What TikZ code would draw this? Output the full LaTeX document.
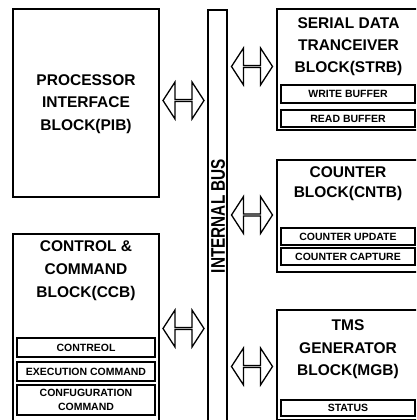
\documentclass[tikz,border=0pt]{standalone}
\usepackage{fontspec}
\setmainfont{Liberation Sans}
\usetikzlibrary{shapes.arrows}
\begin{document}
\begin{tikzpicture}[x=1pt,y=-1pt,
  outerbox/.style={draw,line width=1.9pt,rectangle,inner sep=0pt},
  subbox/.style={draw,line width=1.5pt,rectangle,inner sep=0pt,font=\fontsize{10.5}{14.5}\selectfont\bfseries,align=center},
  title/.style={inner sep=0pt,align=center,font=\fontsize{15.5}{22.5}\selectfont\bfseries},
  busarrow/.style={draw,line width=1.3pt,double arrow,inner sep=0pt,minimum height=41pt,minimum width=37pt,
    double arrow head extend=12.5pt,double arrow tip angle=114,line join=miter}]
\clip (0,0) rectangle (416,420);
\fill[white] (0,0) rectangle (416,420);
% bus
\node[outerbox,line width=1.6pt,minimum width=19pt,minimum height=420pt] (bus) at (217.5,220) {};
\node[inner sep=0pt,rotate=90,font=\fontsize{15.8}{16}\selectfont\bfseries] (bustext) at (218,216) {\scalebox{0.97}[1.25]{INTERNAL BUS}};
% left blocks
\node[outerbox,minimum width=146pt,minimum height=188pt] (pib) at (86,103) {};
\node[title] (pibt) at (86,104) {PROCESSOR\\INTERFACE\\BLOCK(PIB)};
\node[outerbox,minimum width=146pt,minimum height=188pt] (ccb) at (86,328) {};
\node[title,font=\fontsize{15.5}{23}\selectfont\bfseries] (ccbt) at (86,271) {CONTROL \&\\COMMAND\\BLOCK(CCB)};
\node[subbox,minimum width=138pt,minimum height=19pt] (ccb1) at (86,347.5) {CONTREOL};
\node[subbox,minimum width=138pt,minimum height=19pt] (ccb2) at (86,371.5) {EXECUTION COMMAND};
\node[subbox,minimum width=138pt,minimum height=30pt] (ccb3) at (86,400) {CONFUGURATION\\COMMAND};
% right blocks
\node[outerbox,minimum width=142pt,minimum height=121pt] (strb) at (348,69.5) {};
\node[title,font=\fontsize{15.5}{22}\selectfont\bfseries] (strbt) at (348.5,47) {SERIAL DATA\\TRANCEIVER\\BLOCK(STRB)};
\node[subbox,minimum width=134pt,minimum height=18pt] (strb1) at (348,94) {WRITE BUFFER};
\node[subbox,minimum width=134pt,minimum height=17pt] (strb2) at (348,118.5) {READ BUFFER};
\node[outerbox,minimum width=142pt,minimum height=112pt] (cntb) at (348,216) {};
\node[title,font=\fontsize{15.5}{20}\selectfont\bfseries] (cntbt) at (348,184) {COUNTER\\BLOCK(CNTB)};
\node[subbox,minimum width=134pt,minimum height=17pt] (cntb1) at (348,236.5) {COUNTER UPDATE};
\node[subbox,minimum width=134pt,minimum height=17pt] (cntb2) at (348,256.5) {COUNTER CAPTURE};
\node[outerbox,minimum width=142pt,minimum height=110pt] (mgb) at (348,365) {};
\node[title] (mgbt) at (348,349.5) {TMS\\GENERATOR\\BLOCK(MGB)};
\node[subbox,minimum width=134pt,minimum height=16pt] (mgb1) at (348,408) {STATUS};
% arrows
\node[busarrow] (a1) at (183.5,100.5) {};
\node[busarrow] (a2) at (183.5,328.5) {};
\node[busarrow] (a3) at (252,66.5) {};
\node[busarrow] (a4) at (252,215) {};
\node[busarrow] (a5) at (252,366.5) {};
\end{tikzpicture}
\end{document}
